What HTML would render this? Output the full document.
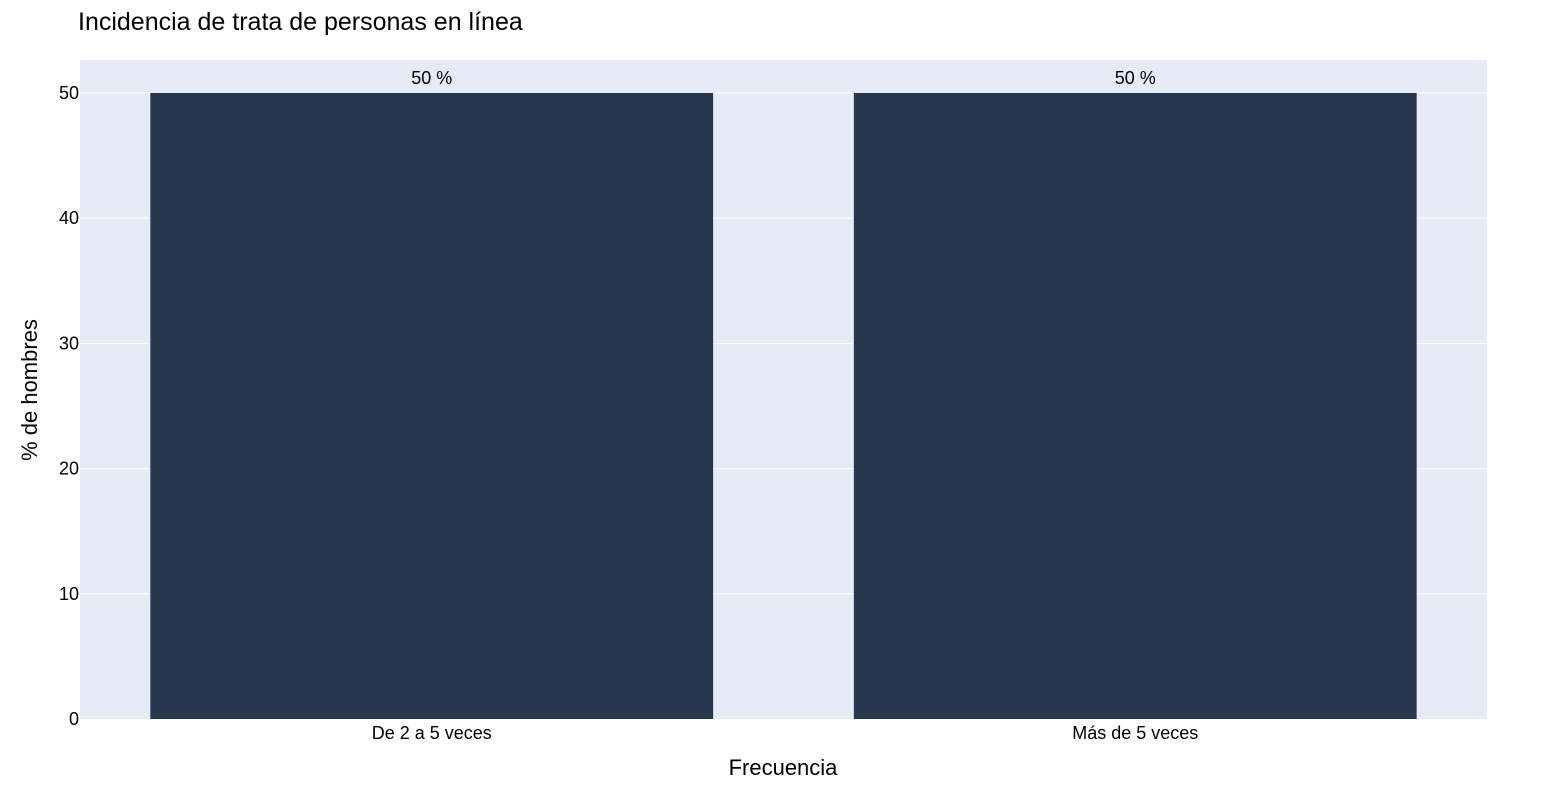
<!DOCTYPE html>
<html><head><meta charset="utf-8"><style>
body{margin:0;background:#fff;font-family:"Liberation Sans",Arial,sans-serif;}
svg text{font-family:"Liberation Sans",Arial,sans-serif;}
</style></head><body>
<svg id="chart" width="1567" height="800" xmlns="http://www.w3.org/2000/svg">
<text x="78" y="30" font-size="25" fill="#000">Incidencia de trata de personas en línea</text>
<rect x="80" y="60" width="1407" height="659" fill="#e5ecf6"/>
<g id="grid"></g><g id="bars"></g><g id="labels"></g>
<text x="783" y="775" font-size="22" text-anchor="middle" fill="#000">Frecuencia</text>
<text transform="translate(37,390) rotate(-90)" font-size="22" text-anchor="middle" fill="#000">% de hombres</text>
</svg>
<script>
const categories=["De 2 a 5 veces","Más de 5 veces"];
const values=[50,50];
const barLabels=["50 %","50 %"];
const yTicks=[0,10,20,30,40,50];
const NS="http://www.w3.org/2000/svg";
const x0=80,x1=1487,yTop=60,yBot=719,yMax=52.63;
const yScale=v=>yBot-(v/yMax)*(yBot-yTop);
const band=(x1-x0)/categories.length;
const xc=i=>x0+band*(i+0.5);
function mk(tag,attrs,parent){const e=document.createElementNS(NS,tag);for(const k in attrs)e.setAttribute(k,attrs[k]);document.getElementById(parent).appendChild(e);return e;}
yTicks.forEach(t=>{
  const y=yScale(t);
  if(t>0){const l=mk("line",{x1:x0,x2:x1,y1:y,y2:y,stroke:"#fff","stroke-width":1},"grid");
  
  }
  const tx=mk("text",{x:79,y:y+6,"font-size":18,"text-anchor":"end",fill:"#000"},"labels");
  tx.textContent=t;
  
  
});
categories.forEach((c,i)=>{
  const w=band*0.8,y=yScale(values[i]);
  const r=mk("rect",{x:xc(i)-w/2,y:y,width:w,height:yBot-y,fill:"#27374f"},"bars");
  
  
  const v=mk("text",{x:xc(i),y:y-9,"font-size":18,"text-anchor":"middle",fill:"#000"},"labels");
  v.textContent=barLabels[i];
  
  
  const xl=mk("text",{x:xc(i),y:739,"font-size":18,"text-anchor":"middle",fill:"#000"},"labels");
  xl.textContent=c;
  
  
});
</script>
</body></html>
